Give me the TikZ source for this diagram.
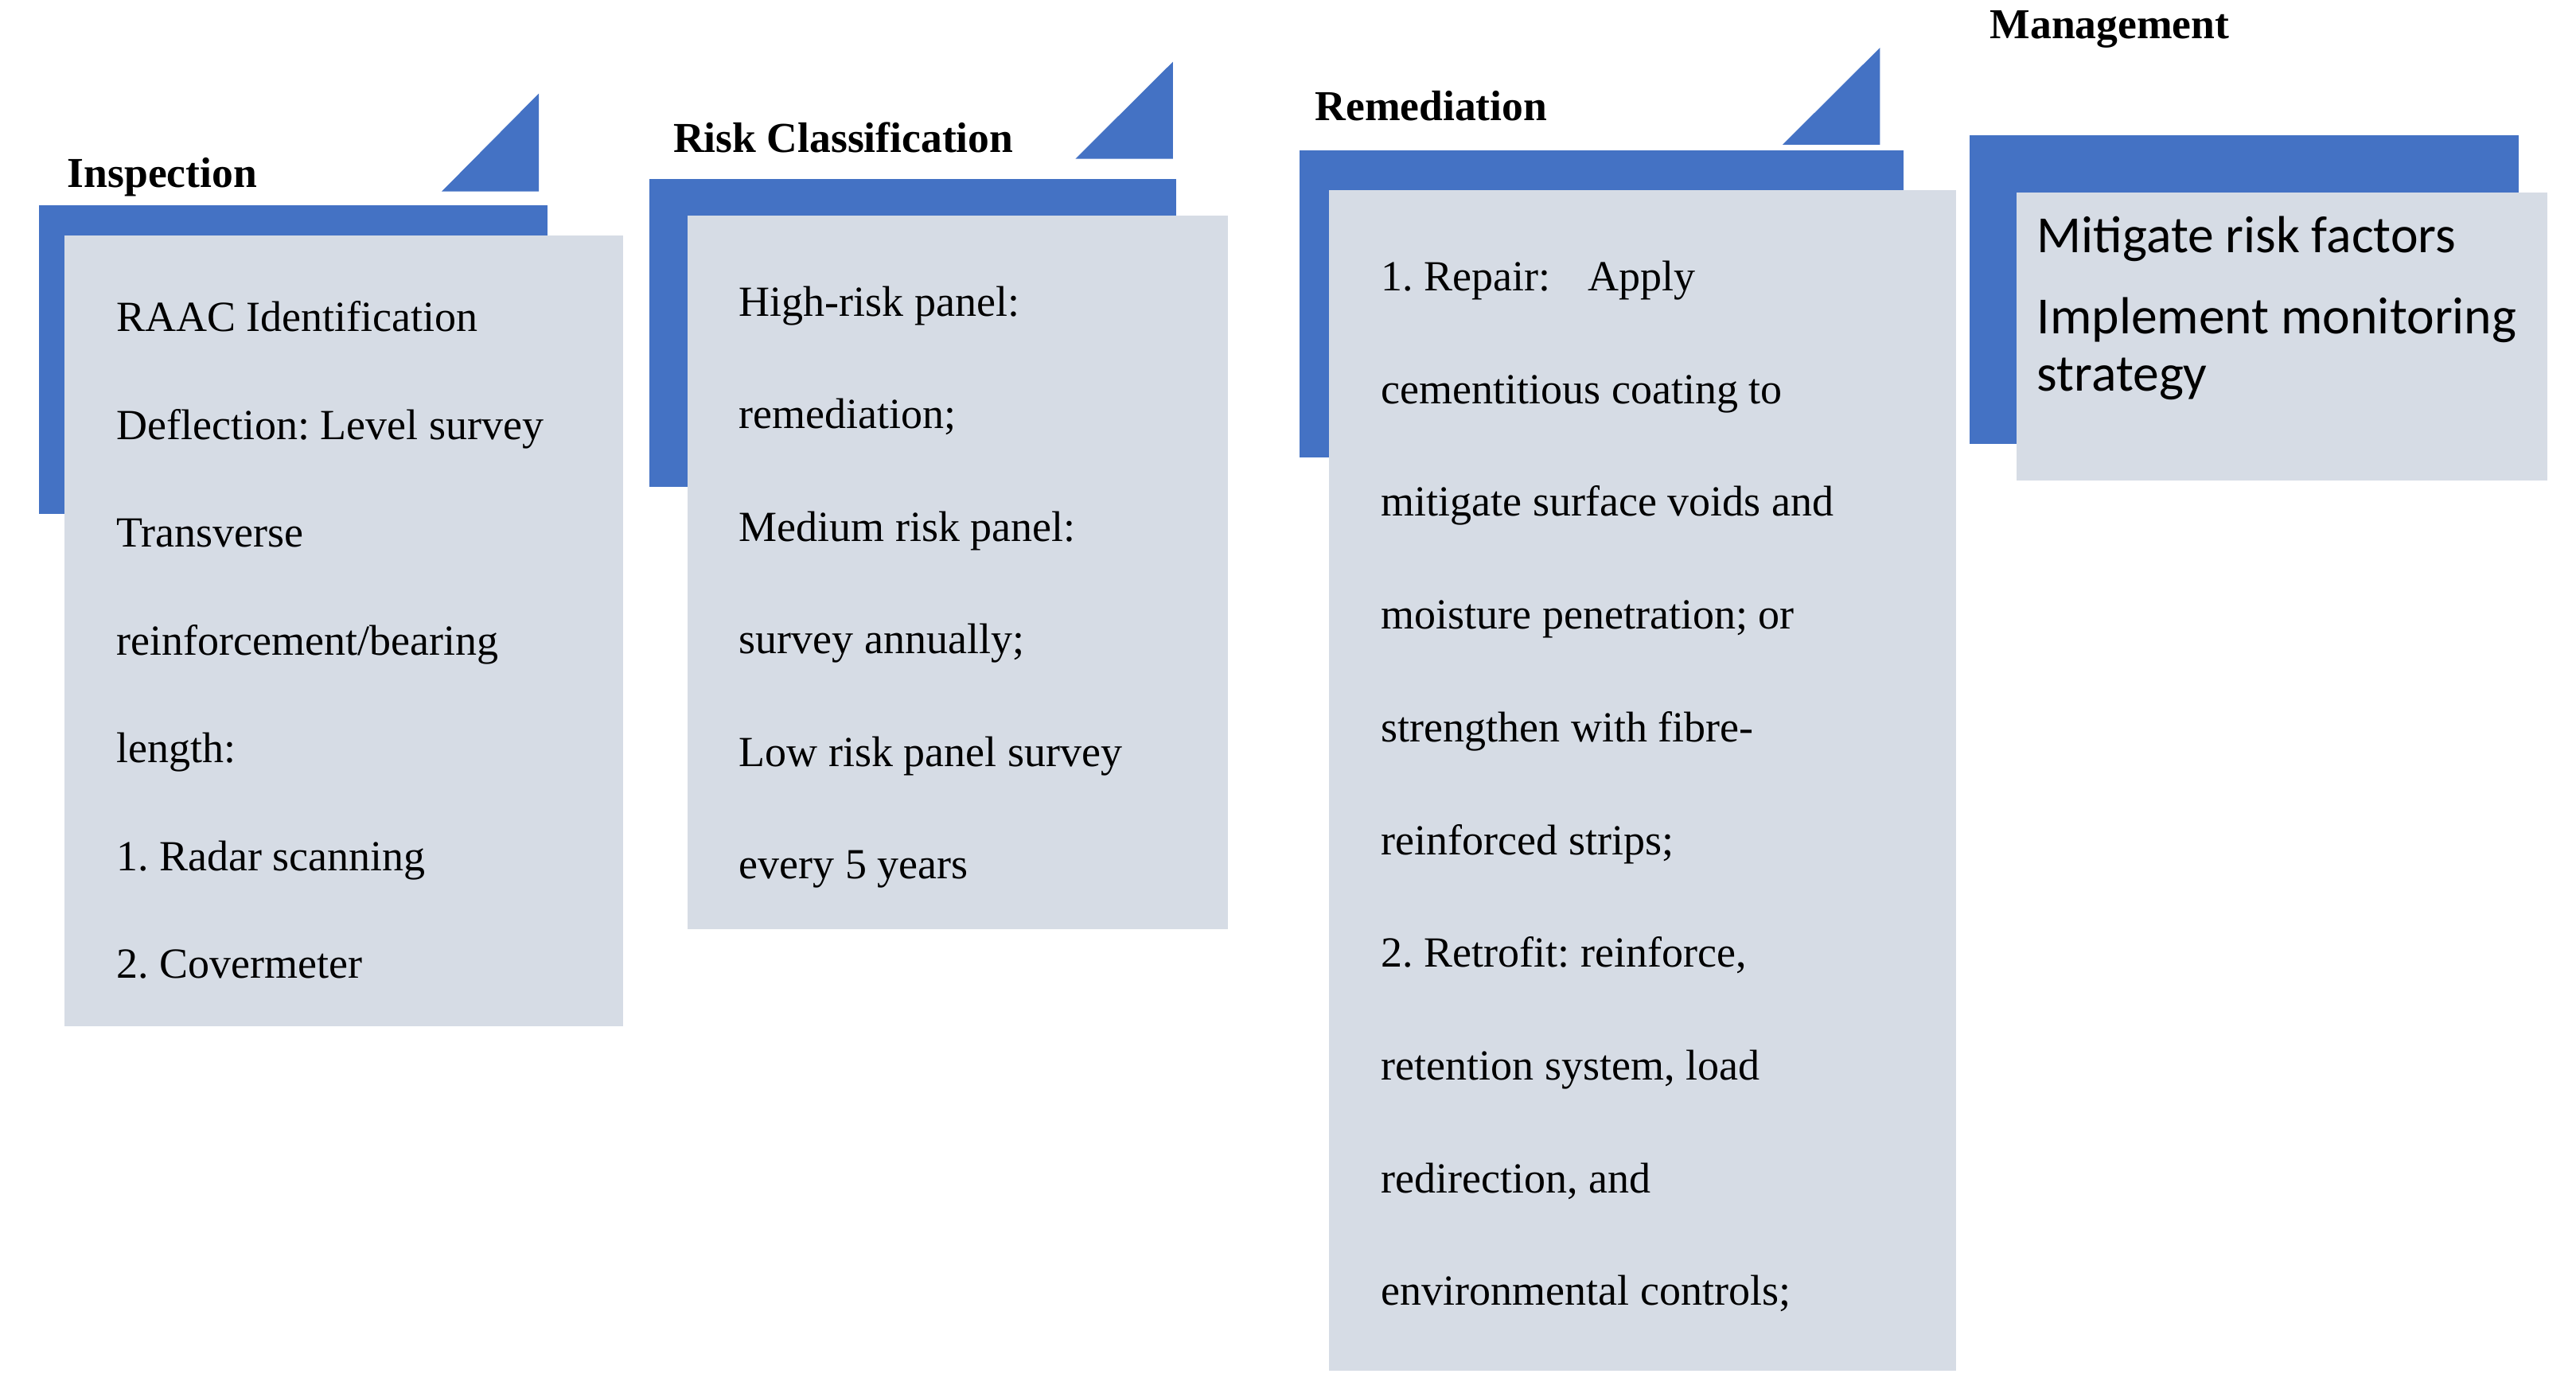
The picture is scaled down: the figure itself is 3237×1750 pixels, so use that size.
\documentclass[tikz,border=0pt]{standalone}
\usepackage{fontspec}
\setmainfont{Liberation Serif}
\newfontfamily\calib{Carlito}
\definecolor{barblue}{HTML}{4472C4}
\definecolor{cardgrey}{HTML}{D6DCE5}
\frenchspacing
\tikzset{
  bluebar/.style={fill=barblue, draw=none},
  greycard/.style={fill=cardgrey, draw=none},
  flag/.style={fill=barblue, draw=none},
  ttl/.style={anchor=base west, inner sep=0pt, font=\fontsize{13.4}{16}\selectfont\bfseries},
  bodyline/.style={anchor=base west, inner sep=0pt, font=\fontsize{13.5}{16}\selectfont},
  mgmtline/.style={anchor=base west, inner sep=0pt, font=\calib\fontsize{16.4}{19}\selectfont},
}
\begin{document}
\begin{tikzpicture}[x=0.25pt, y=-0.25pt]
\useasboundingbox (0,0) rectangle (3237,1750);
% ---------- Inspection ----------
\fill[flag] (555,240.7) -- (677,240.7) -- (677,117.5) -- cycle;
\fill[bluebar] (49,258) rectangle (688,645.6);
\fill[greycard] (81,295.8) rectangle (783,1290.4);
\node[ttl] (t-ins) at (84,235) {Inspection};
\foreach \t [count=\i from 0] in {RAAC Identification, Deflection: Level survey, Transverse, reinforcement/bearing, length:, 1. Radar scanning, 2. Covermeter}
  \node[bodyline] (ins-\i) at (145.4, 416.8+135.5*\i) {\t};
% ---------- Risk Classification ----------
\fill[flag] (1351.4,199.6) -- (1473.9,199.6) -- (1473.9,77.6) -- cycle;
\fill[bluebar] (816.2,224.9) rectangle (1478,611.8);
\fill[greycard] (864.2,271.2) rectangle (1542.8,1167.5);
\node[ttl] (t-risk) at (845.3,191.6) {Risk Classification};
\foreach \t [count=\i from 0] in {High-risk panel:, remediation;, Medium risk panel:, survey annually;, Low risk panel survey, every 5 years}
  \node[bodyline] (risk-\i) at (928, 397+141.5*\i) {\t};
% ---------- Remediation ----------
\fill[flag] (2240,181.8) -- (2362.3,181.8) -- (2362.3,60) -- cycle;
\fill[bluebar] (1632.7,189) rectangle (2392,575.2);
\fill[greycard] (1670,239.2) rectangle (2458,1723);
\node[ttl] (t-rem) at (1651.7,151.2) {Remediation};
\foreach \t [count=\i from 0] in {{\makebox[65pt][l]{1. Repair:}Apply}, cementitious coating to, mitigate surface voids and, moisture penetration; or, strengthen with fibre-, reinforced strips;, {2. Retrofit: reinforce,}, {retention system, load}, {redirection, and}, environmental controls;}
  \node[bodyline] (rem-\i) at (1735, 365.5+141.7*\i) {\t};
% ---------- Management ----------
\fill[bluebar] (2475.3,170) rectangle (3164.9,557.5);
\fill[greycard] (2534,242) rectangle (3200.7,603.5);
\node[ttl] (t-man) at (2499.8,48.9) {Management};
\node[mgmtline] (man-0) at (2559,317) {Mitigate risk factors};
\node[mgmtline] (man-1) at (2559,419.5) {Implement monitoring};
\node[mgmtline] (man-2) at (2559,491) {strategy};
\end{tikzpicture}
\end{document}
